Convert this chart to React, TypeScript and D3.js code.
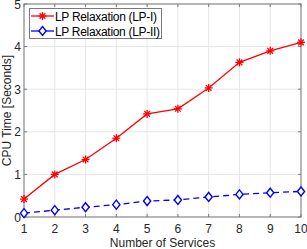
import React from "react";
import * as d3 from "d3";

const services = [1, 2, 3, 4, 5, 6, 7, 8, 9, 10];
const lp1 = [0.42, 1.0, 1.35, 1.85, 2.42, 2.54, 3.03, 3.63, 3.9, 4.1];
const lp2 = [0.09, 0.16, 0.23, 0.29, 0.375, 0.4, 0.47, 0.53, 0.57, 0.6];
const xTicks = [1, 2, 3, 4, 5, 6, 7, 8, 9, 10];
const yTicks = [0, 1, 2, 3, 4, 5];
const seriesNames = ["LP Relaxation (LP-I)", "LP Relaxation (LP-II)"];

const W = 307, H = 249;
const left = 24, right = 301, top = 4, bottom = 217;
const font = "Liberation Sans, Arial, sans-serif";

function Star({ x, y, c }: { x: number; y: number; c: string }) {
  const r = 4;
  const d = r * 0.7071;
  return (
    <g stroke={c} strokeWidth={1.3}>
      <line x1={x - r} y1={y} x2={x + r} y2={y} />
      <line x1={x} y1={y - r} x2={x} y2={y + r} />
      <line x1={x - d} y1={y - d} x2={x + d} y2={y + d} />
      <line x1={x - d} y1={y + d} x2={x + d} y2={y - d} />
    </g>
  );
}
function Diamond({ x, y, c }: { x: number; y: number; c: string }) {
  const r = 4.5;
  return (
    <path
      d={`M${x},${y - r}L${x + r * 0.8},${y}L${x},${y + r}L${x - r * 0.8},${y}Z`}
      fill="white"
      stroke={c}
      strokeWidth={1.4}
    />
  );
}

export default function App() {
  const x = d3.scaleLinear().domain([1, 10]).range([left, right]);
  const y = d3.scaleLinear().domain([0, 5]).range([bottom, top]);
  const line = d3
    .line<number>()
    .x((_, i) => x(services[i]))
    .y((d) => y(d));
  const axisC = "#7a7a7a";
  const fs = 12;
  return (
    <svg
      width={W}
      height={H}
      style={{ position: "absolute", left: 0, top: 0 }}
      fontFamily={font}
    >
      <rect x={0} y={0} width={W} height={H} fill="white" />
      {xTicks.map((t) => (
        <line key={"gx" + t} x1={x(t)} x2={x(t)} y1={top} y2={bottom} stroke="#e6e6e6" strokeWidth={1} />
      ))}
      {yTicks.map((t) => (
        <line key={"gy" + t} x1={left} x2={right} y1={y(t)} y2={y(t)} stroke="#e6e6e6" strokeWidth={1} />
      ))}
      <rect x={left} y={top} width={right - left} height={bottom - top} fill="none" stroke={axisC} strokeWidth={1} />
      {xTicks.map((t) => (
        <g key={"tx" + t}>
          <line x1={x(t)} x2={x(t)} y1={bottom} y2={bottom - 3} stroke={axisC} />
          <line x1={x(t)} x2={x(t)} y1={top} y2={top + 3} stroke={axisC} />
          <text x={x(t)} y={bottom + 16} textAnchor="middle" fontSize={fs} fill="#262626">
            {t}
          </text>
        </g>
      ))}
      {yTicks.map((t) => (
        <g key={"ty" + t}>
          <line x1={left} x2={left + 3} y1={y(t)} y2={y(t)} stroke={axisC} />
          <line x1={right} x2={right - 3} y1={y(t)} y2={y(t)} stroke={axisC} />
          <text x={left - 3} y={y(t) + 4.5} textAnchor="end" fontSize={fs} fill="#262626">
            {t}
          </text>
        </g>
      ))}
      <path d={line(lp1) || ""} fill="none" stroke="#ff0000" strokeWidth={1.3} />
      {lp1.map((v, i) => (
        <Star key={"s" + i} x={x(services[i])} y={y(v)} c="#ff0000" />
      ))}
      <path d={line(lp2) || ""} fill="none" stroke="#0000ff" strokeWidth={1.3} strokeDasharray="6,4" />
      {lp2.map((v, i) => (
        <Diamond key={"d" + i} x={x(services[i])} y={y(v)} c="#0000ff" />
      ))}
      <rect x={29.5} y={8.5} width={132} height={30} fill="white" stroke={axisC} strokeWidth={1} />
      <line x1={31} x2={54} y1={16} y2={16} stroke="#ff0000" strokeWidth={1.3} />
      <Star x={42.5} y={16} c="#ff0000" />
      <text x={55} y={20.5} fontSize={fs} fill="#000" textLength={102} lengthAdjust="spacing">
        {seriesNames[0]}
      </text>
      <line x1={31} x2={54} y1={31} y2={31} stroke="#0000ff" strokeWidth={1.3} />
      <Diamond x={42.5} y={31} c="#0000ff" />
      <text x={55} y={35.5} fontSize={fs} fill="#000" textLength={105} lengthAdjust="spacing">
        {seriesNames[1]}
      </text>
      <text x={(left + right) / 2} y={247} textAnchor="middle" fontSize={fs} fill="#262626">
        Number of Services
      </text>
      <text
        transform={`translate(${11},${(top + bottom) / 2}) rotate(-90)`}
        textAnchor="middle"
        fontSize={fs}
        fill="#262626"
      >
        CPU Time [Seconds]
      </text>
    </svg>
  );
}
